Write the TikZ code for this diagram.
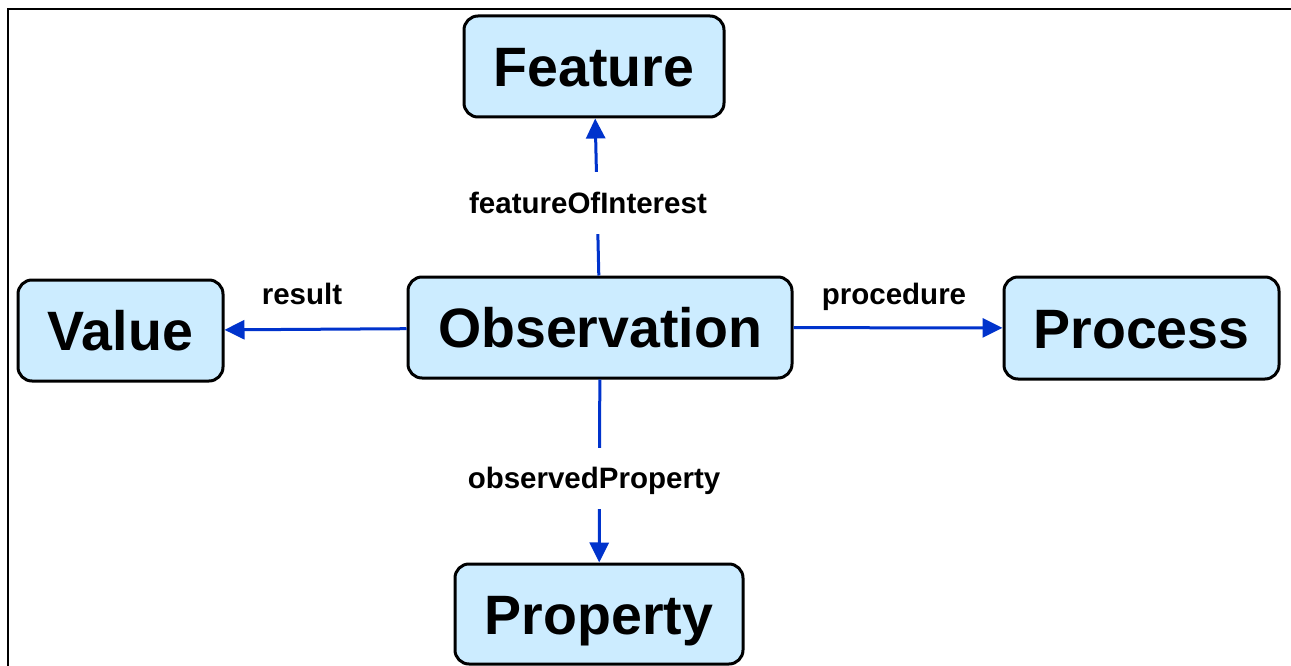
\documentclass[tikz,border=0pt]{standalone}
\usepackage{fontspec}
\setmainfont{Liberation Sans}
\usetikzlibrary{arrows.meta}
\definecolor{boxfill}{RGB}{204,236,255}
\definecolor{arrowblue}{RGB}{0,51,204}
\tikzset{
  classbox/.style={draw=black, line width=3pt, fill=boxfill, rounded corners=14pt,
    inner sep=0pt, text height=40pt, text depth=0pt,
    font=\fontsize{55.5}{60}\selectfont\bfseries},
  rel/.style={draw=arrowblue, line width=3pt, -{Triangle[length=20pt,width=19pt]}},
  rellabel/.style={font=\fontsize{29.5}{34}\selectfont\bfseries, inner xsep=3pt,
    text height=21pt, text depth=0pt},
  onlinelabel/.style={rellabel, fill=white, inner ysep=20pt}
}
\begin{document}
\begin{tikzpicture}[x=1pt,y=-1pt]
\useasboundingbox (0,0) rectangle (1291,666);
\draw[line width=2pt, line cap=rect] (8,666) -- (8,9) -- (1291,9);

\node[classbox, minimum width=260pt, minimum height=101pt] (feat) at (594,66.5) {Feature};
\node[classbox, minimum width=384pt, minimum height=101pt] (obs) at (600,327.5) {Observation};
\node[classbox, minimum width=205pt, minimum height=101pt] (val) at (120.5,330.5) {Value};
\node[classbox, minimum width=275pt, minimum height=102pt] (proc) at (1141.5,328) {Process};
\node[classbox, minimum width=288pt, minimum height=100pt] (prop) at (599,614) {Property};

\draw[rel] (obs) -- (feat);
\draw[rel] (obs) -- (val);
\draw[rel] (obs) -- (proc);
\draw[rel] (obs) -- (prop);

\node[onlinelabel] (lfoi) at (588,203) {featureOfInterest};
\node[onlinelabel] (lop) at (594,478) {observedProperty};
\node[rellabel] (lres) at (302,294) {result};
\node[rellabel] (lproc) at (894,294) {procedure};
\end{tikzpicture}
\end{document}
